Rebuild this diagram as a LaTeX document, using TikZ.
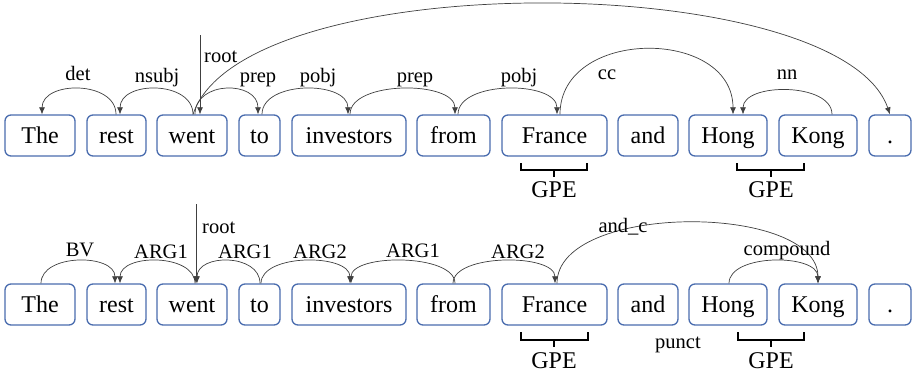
\documentclass[tikz,border=0pt]{standalone}
\usepackage{fontspec}
\setmainfont{Liberation Serif}
\usetikzlibrary{arrows.meta}
\definecolor{boxblue}{HTML}{4A6DAF}
\definecolor{arcgray}{HTML}{404040}
\begin{document}
\begin{tikzpicture}[x=1pt,y=-1pt,
  word/.style={draw=boxblue, line width=1.3pt, rounded corners=6pt,
    minimum height=41pt, inner sep=0pt, text height=18pt, text depth=3pt,
    font=\fontsize{24}{28}\selectfont},
  lbl/.style={inner sep=0pt, anchor=base, font=\fontsize{20.5}{24}\selectfont},
  ent/.style={inner sep=0pt, anchor=base, font=\fontsize{24}{28}\selectfont},
  dep/.style={draw=arcgray, line width=0.7pt, -{Latex[length=7pt,width=6pt]}},
  brace/.style={draw=black, line width=1.2pt}]
\fill[white] (0,0) rectangle (913,375);
\useasboundingbox (0,0) rectangle (913,375);

% ---------- dependency parse (upper sentence) ----------
\node[word, minimum width=70pt]  (t1)  at (40,135.5)  {The};
\node[word, minimum width=59pt]  (t2)  at (116.5,135.5) {rest};
\node[word, minimum width=70pt]  (t3)  at (192,135.5) {went};
\node[word, minimum width=41pt]  (t4)  at (259.5,135.5) {to};
\node[word, minimum width=114pt] (t5)  at (349,135.5) {investors};
\node[word, minimum width=73pt]  (t6)  at (453.5,135.5) {from};
\node[word, minimum width=105pt] (t7)  at (554.5,135.5) {France};
\node[word, minimum width=60pt]  (t8)  at (648,135.5) {and};
\node[word, minimum width=78pt]  (t9)  at (728,135.5) {Hong};
\node[word, minimum width=78pt]  (t10) at (818,135.5) {Kong};
\node[word, minimum width=42pt]  (t11) at (890,135.5) {.};

\coordinate (troot) at (200,35);
\draw[dep] ([xshift=-0.5pt]t2.north) .. controls +(0,-34) and +(0,-34) .. ([xshift=2pt]t1.north);
\draw[dep] ([xshift=1pt]t3.north) .. controls +(0,-34) and +(0,-34) .. ([xshift=3.5pt]t2.north);
\draw[dep] (troot) -- ([xshift=8pt]t3.north);
\draw[dep] ([xshift=3pt]t3.north) .. controls +(0,-34) and +(0,-34) .. ([xshift=-1.5pt]t4.north);
\draw[dep] ([xshift=2.5pt]t4.north) .. controls +(0,-34) and +(0,-34) .. ([xshift=-1pt]t5.north);
\draw[dep] ([xshift=1pt]t5.north) .. controls +(0,-34) and +(0,-34) .. ([xshift=1.5pt]t6.north);
\draw[dep] ([xshift=4.5pt]t6.north) .. controls +(0,-34) and +(0,-34) .. ([xshift=2.5pt]t7.north);
\draw[dep] ([xshift=5.5pt]t7.north) .. controls +(0,-87) and +(0,-87) .. ([xshift=5pt]t9.north);
\draw[dep] ([xshift=14pt]t10.north) .. controls +(0,-32) and +(0,-32) .. ([xshift=15pt]t9.north);
\draw[dep] ([xshift=1pt]t3.north) .. controls +(50,-150) and +(-50,-145) .. (t11.north);

\node[lbl] (ldet)   at (78,80)  {det};
\node[lbl] (lnsubj) at (157,82) {nsubj};
\node[lbl, anchor=base west] (lroot) at (204,62) {root};
\node[lbl] (lprep1) at (258,82) {prep};
\node[lbl] (lpobj1) at (318,82) {pobj};
\node[lbl] (lprep2) at (415,82) {prep};
\node[lbl] (lpobj2) at (519,82) {pobj};
\node[lbl] (lcc)    at (607,79) {cc};
\node[lbl] (lnn)    at (787,79) {nn};

\draw[brace] (521,163) -- (521,170) -- (587,170) -- (587,163);
\draw[brace] (554,170) -- (554,177);
\node[ent] (gpe1) at (554,197) {GPE};
\draw[brace] (737,163) -- (737,170) -- (804,170) -- (804,163);
\draw[brace] (771,170) -- (771,177);
\node[ent] (gpe2) at (771,197) {GPE};

% ---------- semantic graph (lower sentence) ----------
\node[word, minimum width=70pt]  (b1)  at (40,304.5)  {The};
\node[word, minimum width=59pt]  (b2)  at (116.5,304.5) {rest};
\node[word, minimum width=70pt]  (b3)  at (192,304.5) {went};
\node[word, minimum width=41pt]  (b4)  at (259.5,304.5) {to};
\node[word, minimum width=114pt] (b5)  at (349,304.5) {investors};
\node[word, minimum width=73pt]  (b6)  at (453.5,304.5) {from};
\node[word, minimum width=105pt] (b7)  at (554.5,304.5) {France};
\node[word, minimum width=60pt]  (b8)  at (648,304.5) {and};
\node[word, minimum width=78pt]  (b9)  at (728,304.5) {Hong};
\node[word, minimum width=78pt]  (b10) at (818,304.5) {Kong};
\node[word, minimum width=42pt]  (b11) at (890,304.5) {.};

\coordinate (broot) at (196,204);
\draw[dep] ([xshift=1pt]b1.north) .. controls +(0,-30) and +(0,-30) .. ([xshift=-1.5pt]b2.north);
\draw[dep] ([xshift=3pt]b3.north) .. controls +(0,-30) and +(0,-30) .. ([xshift=3.5pt]b2.north);
\draw[dep] (broot) -- ([xshift=4pt]b3.north);
\draw[dep] ([xshift=0.5pt]b4.north) .. controls +(0,-30) and +(0,-30) .. ([xshift=5pt]b3.north);
\draw[dep] ([xshift=1.5pt]b4.north) .. controls +(0,-30) and +(0,-30) .. ([xshift=1pt]b5.north);
\draw[dep] ([xshift=1.5pt]b6.north) .. controls +(0,-30) and +(0,-30) .. ([xshift=2pt]b5.north);
\draw[dep] ([xshift=-0.5pt]b6.north) .. controls +(0,-30) and +(0,-30) .. ([xshift=0.5pt]b7.north);
\draw[dep] ([xshift=2.5pt]b7.north) .. controls +(0,-81) and +(0,-81) .. (b10.north);
\draw[dep] ([xshift=1pt]b9.north) .. controls +(0,-30) and +(0,-30) .. (b10.north);

\node[lbl] (lbv)    at (80,256)  {BV};
\node[lbl] (larg1a) at (161,258) {ARG1};
\node[lbl, anchor=base west] (lroot2) at (202,233) {root};
\node[lbl] (larg1b) at (245,258) {ARG1};
\node[lbl] (larg2a) at (320,258) {ARG2};
\node[lbl] (larg1c) at (413,257) {ARG1};
\node[lbl] (larg2b) at (518,258) {ARG2};
\node[lbl] (landc)  at (623,232) {and\_c};
\node[lbl] (lcomp)  at (787,255) {compound};
\node[lbl] (lpunct) at (678,348) {punct};

\draw[brace] (521,332) -- (521,340) -- (588,340) -- (588,332);
\draw[brace] (554,340) -- (554,347);
\node[ent] (gpe3) at (554,368) {GPE};
\draw[brace] (738,332) -- (738,340) -- (804,340) -- (804,332);
\draw[brace] (771,340) -- (771,347);
\node[ent] (gpe4) at (771,368) {GPE};
\end{tikzpicture}
\end{document}
